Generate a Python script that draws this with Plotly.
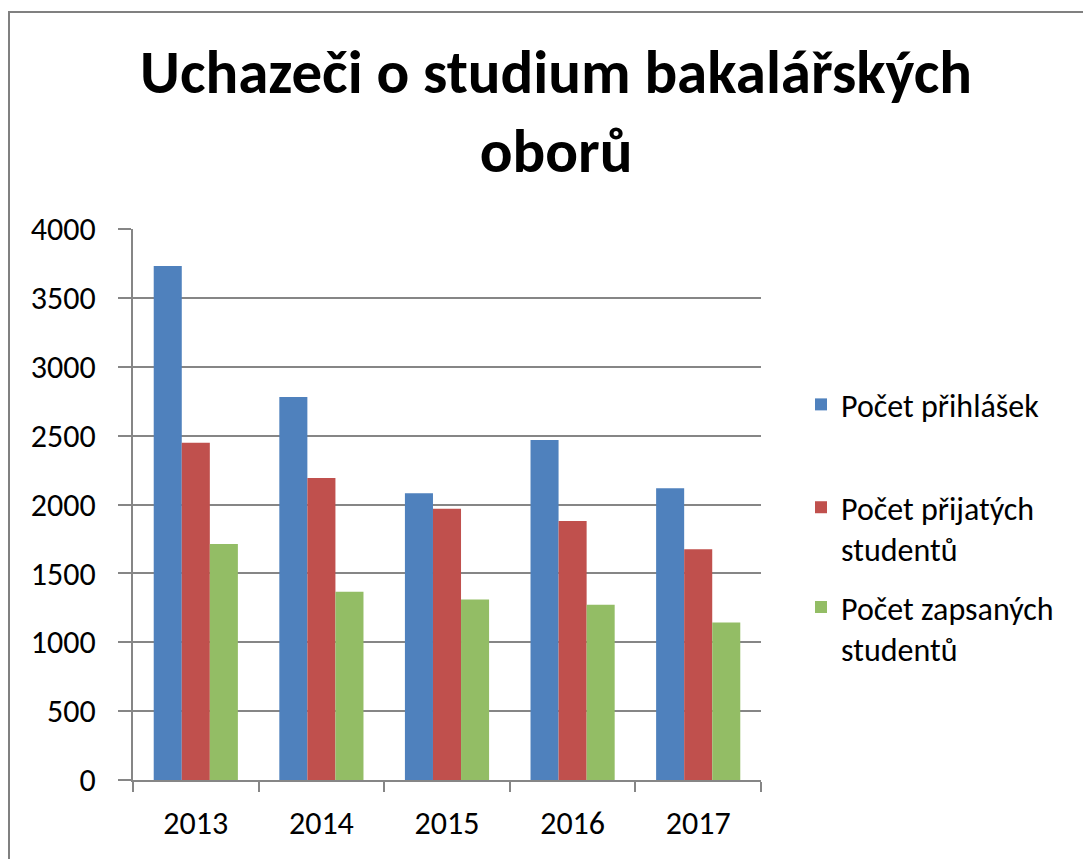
import plotly.graph_objects as go

years = ["2013", "2014", "2015", "2016", "2017"]
series_names = ["Počet přihlášek", "Počet přijatých<br>studentů", "Počet zapsaných<br>studentů"]
prihlasky = [3732, 2780, 2082, 2468, 2118]
prijati = [2449, 2193, 1970, 1881, 1676]
zapsani = [1714, 1366, 1311, 1272, 1144]
colors = ["#4F81BD", "#C0504D", "#93BD65"]
title_text = "Uchazeči o studium bakalářských<br>oborů"

# page body has an 8px margin, so figure coords = screen coords - 8
W, H = 1083, 851
L, R, T, B = 125, 753, 220.7, 772.5

FONT = "Carlito, Lato, sans-serif"
FS = 32

legend_names = ["legend", "legend2", "legend3"]
legend_tops = [369, 472, 572]

fig = go.Figure()
for i, (name, vals) in enumerate(zip(series_names, [prihlasky, prijati, zapsani])):
    fig.add_trace(go.Bar(
        x=years, y=vals, name=name,
        marker=dict(color=colors[i], line=dict(width=0)),
        legend=legend_names[i],
    ))

layout_legends = {}
for i, ln in enumerate(legend_names):
    layout_legends[ln] = dict(
        x=(793 - L) / (R - L), y=(B - legend_tops[i]) / (B - T),
        xanchor="left", yanchor="top", valign="top",
        font=dict(family=FONT, size=FS, color="black"),
        bgcolor="rgba(0,0,0,0)", itemwidth=30,
    )

fig.update_layout(
    width=W, height=H,
    margin=dict(l=L, r=W - R, t=T, b=H - B, pad=0),
    paper_bgcolor="white", plot_bgcolor="white",
    barmode="group", bargap=0.33, bargroupgap=0,
    font=dict(family=FONT, color="black", size=FS),
    title=dict(text=title_text, x=548 / W, xref="container", xanchor="center",
               y=1 - 85 / H, yref="container", yanchor="middle",
               font=dict(family=FONT, size=61, color="black", weight="bold")),
    showlegend=True,
    **layout_legends,
)

fig.update_yaxes(range=[0, 4000], dtick=500, tick0=0,
                 showgrid=True, gridcolor="#868686", gridwidth=2,
                 showline=True, linecolor="#868686", linewidth=2,
                 ticks="outside", ticklen=13, tickwidth=2, tickcolor="#868686",
                 ticklabelstandoff=16, zeroline=False,
                 tickfont=dict(family=FONT, size=FS, color="black"))
fig.update_xaxes(showline=True, linecolor="#868686", linewidth=2,
                 ticks="outside", ticklen=10, tickwidth=2, tickcolor="#868686",
                 tickson="boundaries", ticklabelstandoff=14,
                 showgrid=False,
                 tickfont=dict(family=FONT, size=FS, color="black"))

# chart-area frame (extends off the right/bottom of the page)
fig.add_shape(type="rect", xref="paper", yref="paper",
              x0=(1 - L) / (R - L), x1=(W + 20 - L) / (R - L),
              y0=(B - (H + 20)) / (B - T), y1=(B - 3.5) / (B - T),
              line=dict(color="#808080", width=2), fillcolor="rgba(0,0,0,0)", layer="below")

fig.write_html("out.html")
